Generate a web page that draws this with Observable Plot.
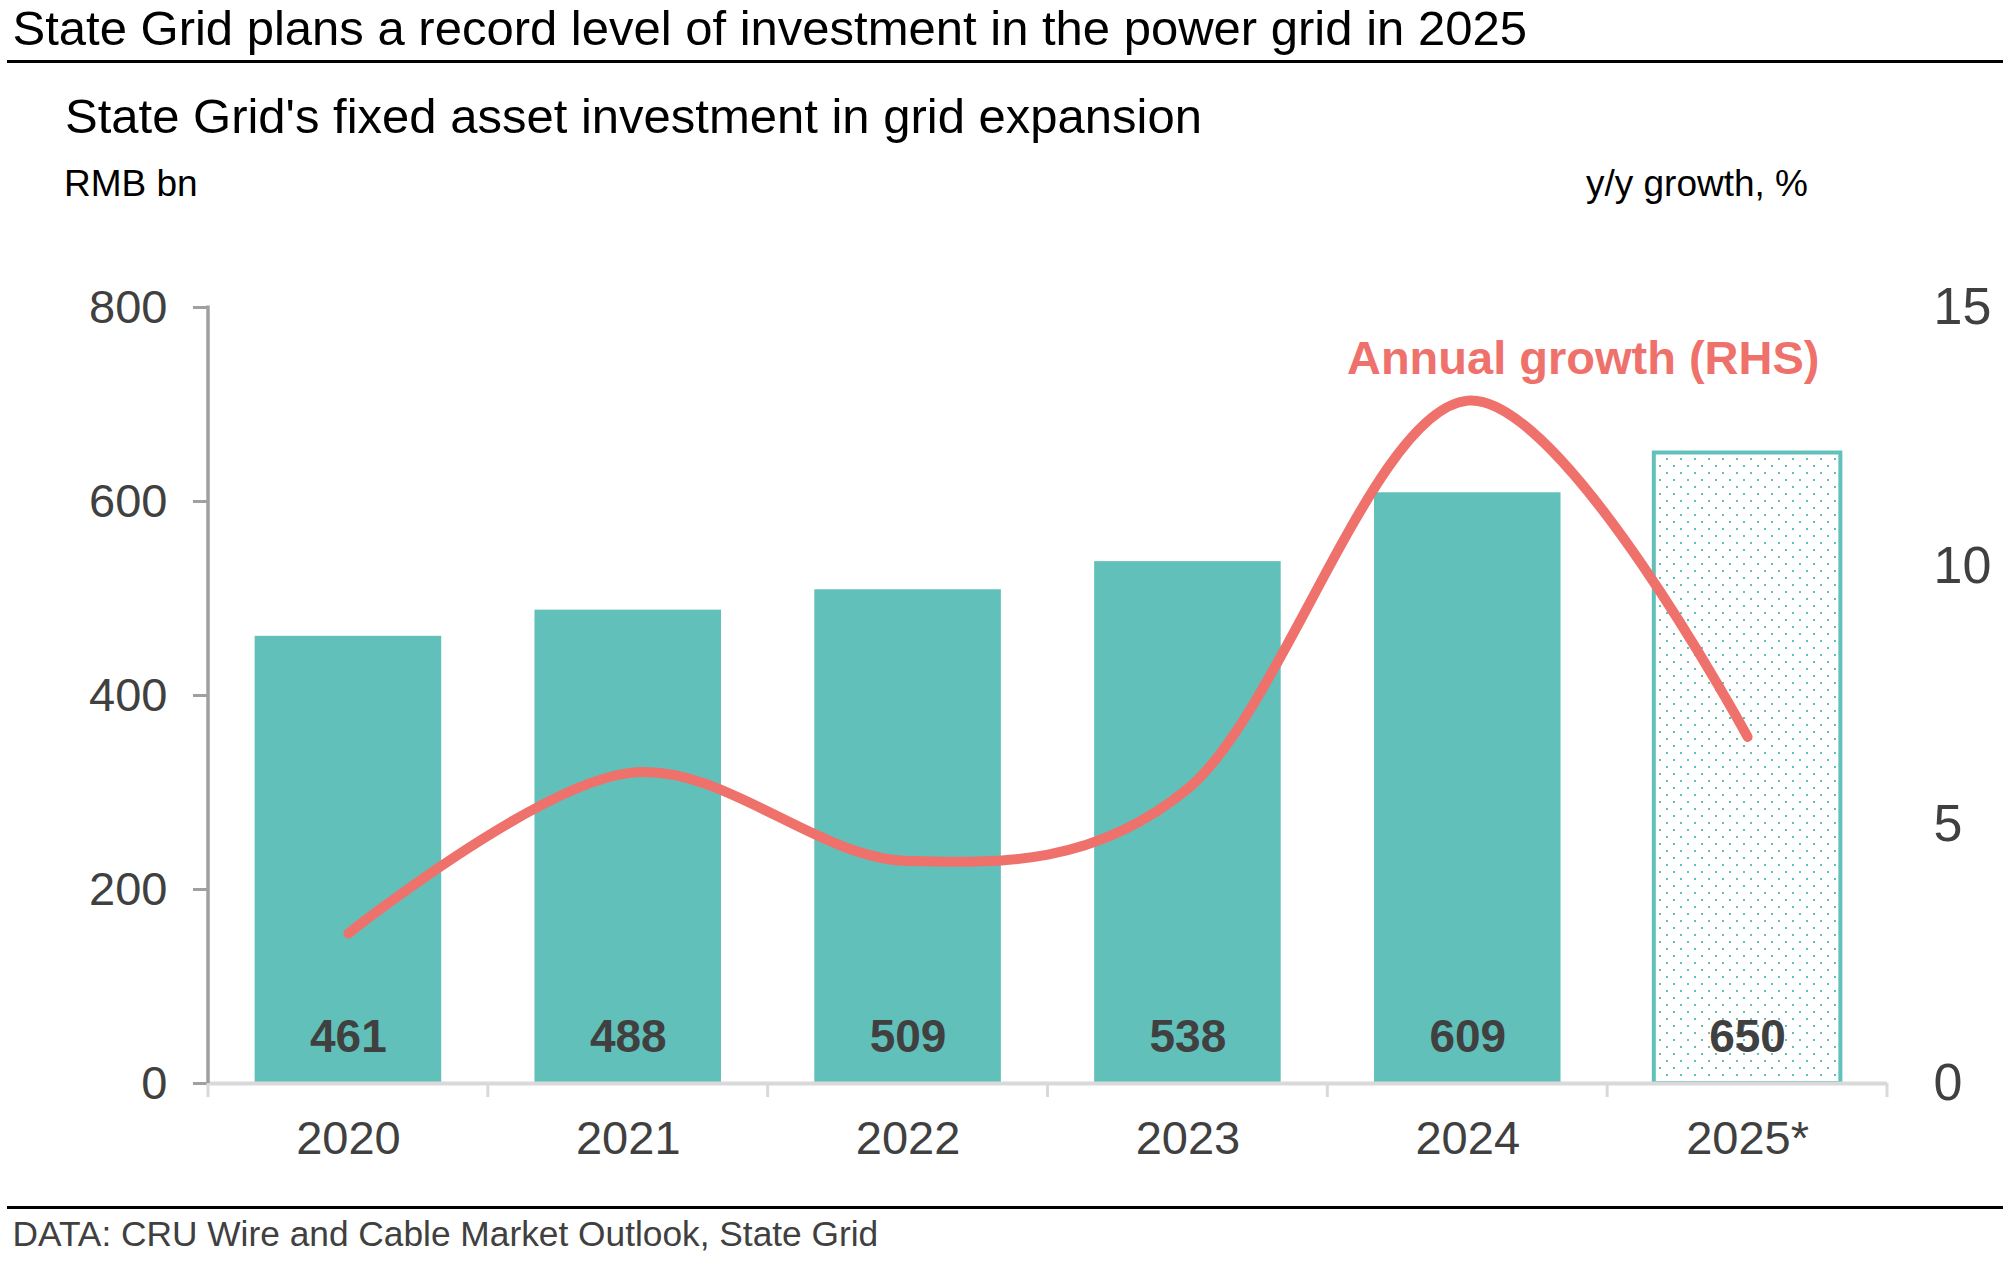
<!DOCTYPE html>
<html>
<head>
<meta charset="utf-8">
<script src="https://cdn.jsdelivr.net/npm/d3@7"></script>
<script src="https://cdn.jsdelivr.net/npm/@observablehq/plot@0.6"></script>
<style>
  html, body { margin: 0; padding: 0; width: 2012px; height: 1261px; overflow: hidden; background: #fff;
    font-family: "Liberation Sans", Arial, sans-serif; }
  .t { position: absolute; white-space: nowrap; line-height: 1; }
  #title { left: 12.5px; top: 3.5px; font-size: 49px; color: #000; }
  #rule1 { position: absolute; left: 7px; width: 1996px; top: 60px; height: 3px; background: #000; }
  #sub { left: 65px; top: 91.5px; font-size: 49px; color: #000; }
  #unitL { left: 64px; top: 164.7px; font-size: 37px; color: #000; }
  #unitR { right: 204px; top: 164.7px; font-size: 37px; color: #000; }
  #chart { position: absolute; left: 0; top: 220px; }
  #rule2 { position: absolute; left: 7px; width: 1996px; top: 1206px; height: 3px; background: #000; }
  #cap { left: 12.5px; top: 1216px; font-size: 35.3px; color: #404040; }
</style>
</head>
<body>
<div class="t" id="title">State Grid plans a record level of investment in the power grid in 2025</div>
<div id="rule1"></div>
<div class="t" id="sub">State Grid's fixed asset investment in grid expansion</div>
<div class="t" id="unitL">RMB bn</div>
<div class="t" id="unitR">y/y growth, %</div>
<div id="chart"></div>
<div id="rule2"></div>
<div class="t" id="cap">DATA: CRU Wire and Cable Market Outlook, State Grid</div>
<script>
// ---- data ----
const years = ["2020", "2021", "2022", "2023", "2024", "2025*"];
const investment = [461, 488, 509, 538, 609, 650];       // RMB bn (LHS)
const growth = [2.9, 6.0, 4.3, 5.7, 13.2, 6.7];          // y/y growth % (RHS)
const isForecast = [false, false, false, false, false, true];
const leftTicks = [0, 200, 400, 600, 800];
const rightTicks = [0, 5, 10, 15];
const leftMax = 800, rightMax = 15;
const lineLabel = "Annual growth (RHS)";

// ---- build ----
const k = leftMax / rightMax;
const rows = years.map((year, i) => ({year, value: investment[i], growth: growth[i], forecast: isForecast[i]}));
const teal = "#62C0BA";
const red = "#EF716B";
const grey = "#404040";

const plot = Plot.plot({
  width: 2012,
  height: 985,
  marginLeft: 208,
  marginRight: 125,
  marginTop: 87,
  marginBottom: 122,
  style: {fontFamily: '"Liberation Sans", Arial, sans-serif', background: "white", overflow: "visible"},
  x: {type: "band", domain: years, paddingInner: 1/3, paddingOuter: 1/6, round: false, label: null},
  y: {domain: [0, leftMax], label: null},
  marks: [
    Plot.axisY({ticks: leftTicks, tickSize: 15, tickPadding: 26, fontSize: 47, stroke: "#a0a0a0", strokeWidth: 3,
                fill: grey, tickFormat: d => String(d), label: null}),
    Plot.axisY({anchor: "right", ticks: rightTicks.map(v => v * k), tickSize: 0, tickPadding: 46, fontSize: 52,
                fill: grey, tickFormat: d => String(Math.round(d / k)), label: null}),
    Plot.axisX({tickSize: 0, tickPadding: 37, fontSize: 47, fill: grey, label: null}),
    Plot.barY(rows.filter(d => !d.forecast), {x: "year", y: "value", fill: teal}),
    Plot.barY(rows.filter(d => d.forecast), {x: "year", y: "value", fill: "url(#dots)", stroke: teal, strokeWidth: 4}),
    Plot.ruleY([0], {stroke: "#d9d9d9", strokeWidth: 4}),
    Plot.text(rows, {x: "year", y: 0, text: d => String(d.value), dy: -46, fontSize: 46, fontWeight: "bold", fill: grey}),
    Plot.line(rows, {x: "year", y: d => d.growth * k, stroke: red, strokeWidth: 10, curve: "cardinal",
                     strokeLinecap: "round", strokeLinejoin: "round"}),
    Plot.text([lineLabel], {frameAnchor: "top-right", text: d => d, textAnchor: "end", lineAnchor: "middle",
                            dx: -68, dy: 51, fontSize: 47, fontWeight: "bold", fill: red})
  ]
});

document.getElementById("chart").appendChild(plot);

// pattern for the forecast bar
const svg = d3.select(plot);
const defs = svg.insert("defs", ":first-child");
const pat = defs.append("pattern").attr("id", "dots").attr("patternUnits", "userSpaceOnUse")
  .attr("width", 14).attr("height", 14);
pat.append("rect").attr("width", 14).attr("height", 14).attr("fill", "#fff");
pat.append("rect").attr("x", 0).attr("y", 0).attr("width", 2).attr("height", 2).attr("fill", teal);
pat.append("rect").attr("x", 7).attr("y", 7).attr("width", 2).attr("height", 2).attr("fill", teal);

// left spine and category-boundary ticks, from the plot's own scales
const xs = plot.scale("x"), ys = plot.scale("y");
const gap = xs.step - xs.bandwidth;
const bounds = years.map(y => xs.apply(y) - gap / 2)
  .concat([xs.apply(years[years.length - 1]) + xs.bandwidth + gap / 2]);
const y0 = ys.apply(0), yTop = ys.apply(leftMax);
const g = svg.append("g");
g.append("line").attr("x1", bounds[0]).attr("x2", bounds[0]).attr("y1", yTop - 1.5).attr("y2", y0)
  .attr("stroke", "#a0a0a0").attr("stroke-width", 3.5);
g.selectAll("line.b").data(bounds).join("line").attr("class", "b")
  .attr("x1", d => d).attr("x2", d => d).attr("y1", y0).attr("y2", y0 + 14)
  .attr("stroke", "#d9d9d9").attr("stroke-width", 3);
// keep the line and its label on top
svg.selectAll("g[aria-label='line'], g[aria-label='text']").raise();
</script>
</body>
</html>
